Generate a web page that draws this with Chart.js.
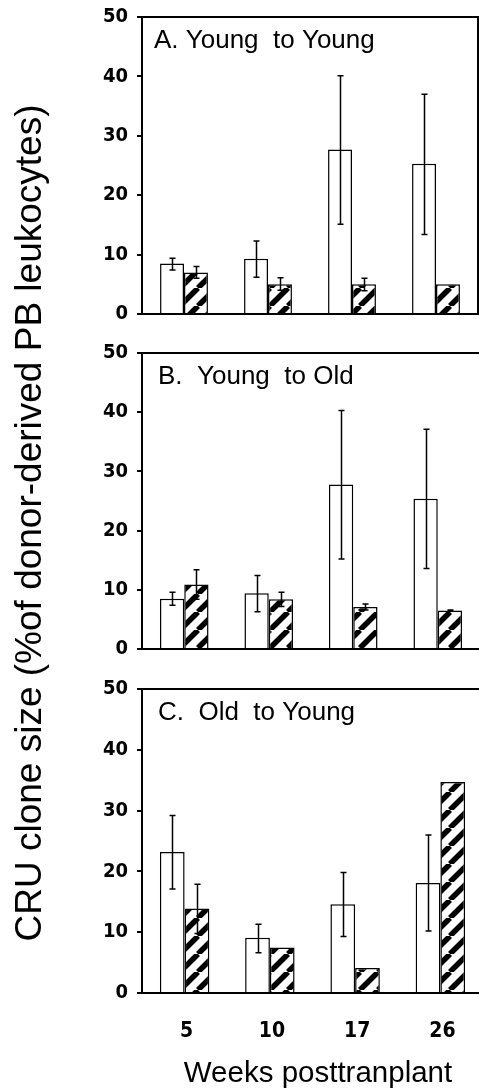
<!DOCTYPE html>
<html>
<head>
<meta charset="utf-8">
<script src="https://cdn.jsdelivr.net/npm/chart.js@4.4.1/dist/chart.umd.min.js"></script>
<style>
  html, body { margin: 0; padding: 0; background: #fff; overflow: hidden; }
  #wrap { position: relative; width: 479px; height: 1091px; overflow: hidden; }
  canvas { position: absolute; left: 0; top: 0; }
</style>
</head>
<body>
<div id="wrap">
  <canvas id="panelA" width="495" height="1091"></canvas>
  <canvas id="panelB" width="495" height="1091"></canvas>
  <canvas id="panelC" width="495" height="1091"></canvas>
</div>
<script>
// data
const weeks = ["5", "10", "17", "26"];
const yMax = 50;
const yStep = 10;
const panelTitles = ["A. Young  to Young", "B.  Young  to Old", "C.  Old  to Young"];
const yTitle = "CRU clone size (%of donor-derived PB leukocytes)";
const xTitle = "Weeks posttranplant";

// A. young to young
const aWhite = [8.5, 9.3, 27.7, 25.3];
const aWhiteLo = [7.4, 6.2, 15.1, 13.4];
const aWhiteHi = [9.4, 12.3, 40.1, 37.0];
const aHatch = [7.0, 5.0, 5.0, 5.0];
const aHatchLo = [6.0, 4.0, 3.9, null];
const aHatchHi = [8.0, 6.1, 6.0, null];

// B. young to old
const bWhite = [8.5, 9.4, 27.8, 25.4];
const bWhiteLo = [7.4, 6.3, 15.2, 13.6];
const bWhiteHi = [9.6, 12.4, 40.3, 37.1];
const bHatch = [10.9, 8.4, 7.1, 6.5];
const bHatchLo = [8.4, 7.2, 6.6, 6.4];
const bHatchHi = [13.4, 9.6, 7.6, 6.6];

// C. old to young
const cWhite = [23.2, 9.1, 14.6, 18.1];
const cWhiteLo = [17.1, 6.6, 9.3, 10.2];
const cWhiteHi = [29.2, 11.3, 19.8, 26.0];
const cHatch = [13.9, 7.5, 4.1, 34.7];
const cHatchLo = [9.8, null, null, null];
const cHatchHi = [17.9, null, null, null];

const CANVAS_W = 495;
const CANVAS_H = 1091;

// diagonal black stripes for the second series
function makeHatch() {
    const size = 18;
    const tile = document.createElement("canvas");
    tile.width = size;
    tile.height = size;
    const g = tile.getContext("2d");
    g.fillStyle = "#fff";
    g.fillRect(0, 0, size, size);
    g.strokeStyle = "#000";
    g.lineWidth = 5.5;
    for (const o of [-size, 0, size]) {
        g.beginPath();
        g.moveTo(o, size);
        g.lineTo(o + size, 0);
        g.stroke();
    }
    return g.createPattern(tile, "repeat");
}
const hatchFill = makeHatch();

// error bars on top of bars
const errorBars = {
    id: "errorBars",
    afterDatasetsDraw(chart) {
        const ctx = chart.ctx;
        const yScale = chart.scales.y;
        ctx.save();
        ctx.strokeStyle = "#000";
        ctx.lineWidth = 1.5;
        chart.data.datasets.forEach((ds, di) => {
            const meta = chart.getDatasetMeta(di);
            meta.data.forEach((bar, i) => {
                const lo = ds.errLo[i];
                const hi = ds.errHi[i];
                if (lo == null || hi == null) return;
                const yLo = yScale.getPixelForValue(lo);
                const yHi = yScale.getPixelForValue(hi);
                const x = Math.round(bar.x) + 0.5;
                ctx.beginPath();
                ctx.moveTo(x, yHi);
                ctx.lineTo(x, yLo);
                ctx.moveTo(x - 3, yHi);
                ctx.lineTo(x + 3, yHi);
                ctx.moveTo(x - 3, yLo);
                ctx.lineTo(x + 3, yLo);
                ctx.stroke();
            });
        });
        ctx.restore();
    },
};

// top line, optional right line, bottom axis again, and the panel label
const panelFrame = {
    id: "panelFrame",
    afterDatasetsDraw(chart, args, opts) {
        const { ctx, chartArea } = chart;
        const { left, right, top, bottom } = chartArea;
        ctx.save();
        ctx.strokeStyle = "#000";
        ctx.lineWidth = 2;
        ctx.beginPath();
        ctx.moveTo(left - 1, top);
        ctx.lineTo(right + 1, top);
        ctx.moveTo(left - 5, bottom);
        ctx.lineTo(right + 1, bottom);
        if (opts.rightBorder) {
            ctx.moveTo(right, top);
            ctx.lineTo(right, bottom);
        }
        ctx.stroke();
        ctx.fillStyle = "#000";
        ctx.font = '26px "Liberation Sans", Arial, sans-serif';
        ctx.textAlign = "left";
        ctx.textBaseline = "alphabetic";
        ctx.fillText(opts.label, left + opts.labelDx, top + 31);
        ctx.restore();
    },
};

// shared axis titles, drawn once on the bottom panel
const sharedTitles = {
    id: "sharedTitles",
    afterDraw(chart, args, opts) {
        if (!opts.show) return;
        const ctx = chart.ctx;
        ctx.save();
        ctx.fillStyle = "#000";
        ctx.font = '37px "Liberation Sans", Arial, sans-serif';
        ctx.textAlign = "center";
        ctx.textBaseline = "alphabetic";
        ctx.translate(41, 523);
        ctx.rotate(-Math.PI / 2);
        ctx.fillText(yTitle, 0, 0);
        ctx.restore();

        ctx.save();
        ctx.fillStyle = "#000";
        ctx.font = '29.5px "Liberation Sans", Arial, sans-serif';
        ctx.textAlign = "center";
        ctx.textBaseline = "alphabetic";
        ctx.fillText(xTitle, 318, 1082);
        ctx.restore();
    },
};

function makePanel(id, n, white, wLo, wHi, hatch, hLo, hHi, box) {
    const showX = !!box.showX;
    const xHeight = showX ? 60 : 0;
    return new Chart(document.getElementById(id), {
        type: "bar",
        data: {
            labels: weeks,
            datasets: [
                {
                    data: white,
                    errLo: wLo,
                    errHi: wHi,
                    backgroundColor: "#fff",
                    borderColor: "#000",
                    borderWidth: 1.5,
                },
                {
                    data: hatch,
                    errLo: hLo,
                    errHi: hHi,
                    backgroundColor: hatchFill,
                    borderColor: "#000",
                    borderWidth: 1.5,
                },
            ],
        },
        options: {
            responsive: false,
            animation: false,
            events: [],
            categoryPercentage: box.catPct,
            barPercentage: 1.0,
            layout: {
                padding: {
                    left: 0,
                    top: box.top,
                    right: CANVAS_W - box.right,
                    bottom: CANVAS_H - box.bottom - xHeight,
                },
            },
            plugins: {
                legend: { display: false },
                tooltip: { enabled: false },
                title: { display: false },
                panelFrame: { label: panelTitles[n], labelDx: box.labelDx, rightBorder: !!box.rightBorder },
                sharedTitles: { show: showX },
            },
            scales: {
                x: {
                    grid: { display: false, drawTicks: false },
                    border: { display: true, color: "#000", width: 2 },
                    ticks: {
                        display: showX,
                        color: "#000",
                        padding: 26,
                        labelOffset: 2,
                        font: { family: '"DejaVu Sans Condensed", "DejaVu Sans", sans-serif', weight: "bold", size: 21 },
                    },
                    afterFit: (scale) => {
                        scale.height = xHeight;
                        scale.paddingLeft = 0;
                        scale.paddingRight = 0;
                    },
                },
                y: {
                    min: 0,
                    max: yMax,
                    grid: {
                        drawOnChartArea: false,
                        drawTicks: true,
                        tickLength: 5,
                        color: "#000",
                        lineWidth: 2,
                    },
                    border: { display: true, color: "#000", width: 2 },
                    ticks: {
                        stepSize: yStep,
                        color: "#000",
                        padding: 9,
                        font: { family: '"DejaVu Sans Condensed", "DejaVu Sans", sans-serif', weight: "bold", size: 20 },
                    },
                    afterFit: (scale) => {
                        scale.width = 142;
                        scale.paddingTop = 0;
                        scale.paddingBottom = 0;
                    },
                },
            },
        },
        plugins: [errorBars, panelFrame, sharedTitles],
    });
}

makePanel("panelA", 0, aWhite, aWhiteLo, aWhiteHi, aHatch, aHatchLo, aHatchHi,
    { top: 17, bottom: 314, right: 478, catPct: 0.57, labelDx: 12, rightBorder: true });
makePanel("panelB", 1, bWhite, bWhiteLo, bWhiteHi, bHatch, bHatchLo, bHatchHi,
    { top: 353, bottom: 649, right: 480, catPct: 0.575, labelDx: 16 });
makePanel("panelC", 2, cWhite, cWhiteLo, cWhiteHi, cHatch, cHatchLo, cHatchHi,
    { top: 689, bottom: 993, right: 483, catPct: 0.58, labelDx: 16, showX: true });
</script>
</body>
</html>
